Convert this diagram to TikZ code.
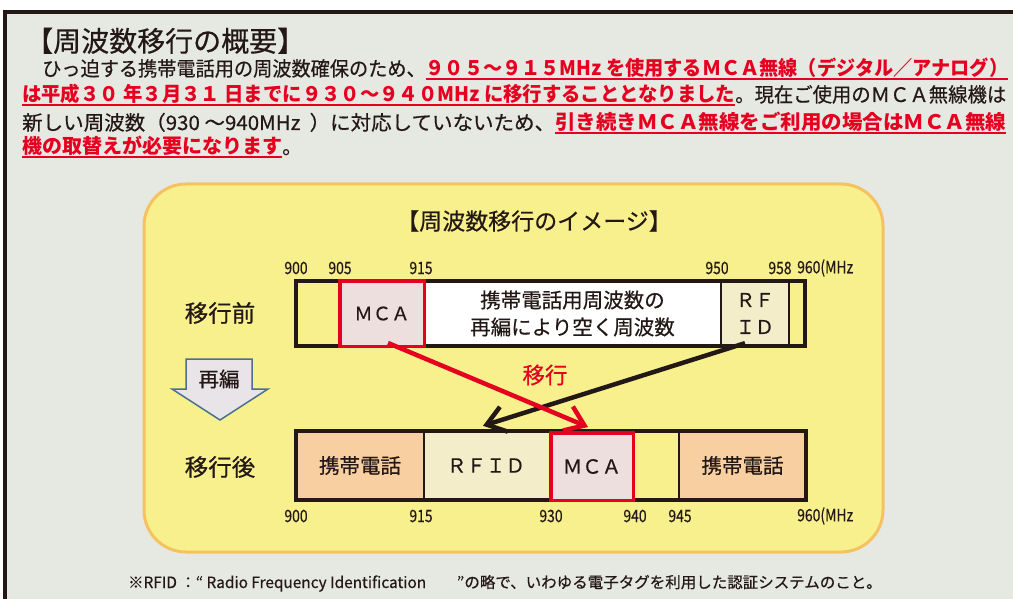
\documentclass[tikz,border=0pt]{standalone}
\usepackage{fontspec}
\usepackage{graphicx}
\setmainfont{Noto Sans CJK JP}
\newfontfamily\medfont[FakeBold=0.45]{Noto Sans CJK JP}
\usetikzlibrary{arrows.meta}
\definecolor{cred}{HTML}{E60020}
\definecolor{cink}{HTML}{231815}
\definecolor{cpanel}{HTML}{E6E8E2}
\definecolor{cyellow}{HTML}{F7F08C}
\definecolor{corange}{HTML}{F5C260}
\definecolor{cpeach}{HTML}{F8CFA0}
\definecolor{ccream}{HTML}{F3EDC9}
\definecolor{cpink}{HTML}{EEDFDF}
\definecolor{cgrayarrow}{HTML}{E8E4E8}
\definecolor{cblue}{HTML}{4A7090}
\newsavebox\ulbox
\newcommand\rul[1]{\sbox\ulbox{\color{cred}\normalfont\bfseries #1}{\color{cred}\rlap{\usebox\ulbox}\rule[-4pt]{\wd\ulbox}{1.6pt}}}
\newcommand\nar[1]{\scalebox{0.82}[1]{#1}}
\begin{document}
\begin{tikzpicture}[x=1pt,y=-1pt,
  txt/.style={inner sep=0pt, text=cink},
  para/.style={inner sep=0pt, anchor=base west, text=cink, font=\medfont\fontsize{20}{24}\selectfont},
  cell/.style={inner sep=0pt, text=cink, align=center, font=\medfont\fontsize{20.5}{27}\selectfont},
  num/.style={inner sep=0pt, text=cink, font=\medfont\fontsize{17}{17}\selectfont},
  barbox/.style={draw=cink, line width=3.5pt, inner sep=0pt},
  div/.style={draw=cink, line width=1.5pt},
  redbox/.style={draw=cred, line width=3.5pt, fill=cpink},
  mv/.style={line width=4.5pt, -{Straight Barb[length=18pt,width=26pt]}},
]
\useasboundingbox (0,0) rectangle (1013,599);
\fill[white] (0,0) rectangle (1013,599);
\fill[cpanel] (5,12) rectangle (1013,599);
\draw[cink, line width=3.5pt, line join=miter] (5,599) -- (5,12) -- (1013,12);

% heading and paragraph
\node[txt, anchor=base west, font=\medfont\fontsize{28}{28}\selectfont] (title) at (25,51.5) {【周波数移行の概要】};
\node[para] (l1) at (42,76) {\resizebox{966pt}{\height}{ひっ迫する携帯電話用の周波数確保のため、\rul{９０５～９１５MHz を使用するＭＣＡ無線（デジタル／アナログ）}}};
\node[para] (l2) at (22,102) {\resizebox{984pt}{\height}{\rul{は平成３０ 年３月３１ 日までに９３０～９４０MHz に移行することとなりました}。現在ご使用のＭＣＡ無線機は}};
\node[para] (l3) at (22,130) {\resizebox{984pt}{\height}{新しい周波数（930 ～940MHz \ ）に対応していないため、\rul{引き続きＭＣＡ無線をご利用の場合はＭＣＡ無線}}};
\node[para] (l4) at (22,154) {\rul{機の取替えが必要になります}。};

% yellow panel
\draw[fill=cyellow, draw=corange, line width=3pt, rounded corners=42pt] (144,184) rectangle (883,552);
\node[txt, font=\medfont\fontsize{23}{23}\selectfont] (sub) at (534,221) {【周波数移行のイメージ】};

% row labels
\node[txt, font=\medfont\fontsize{23.5}{23.5}\selectfont] (before) at (220,313) {移行前};
\node[txt, font=\medfont\fontsize{23.5}{23.5}\selectfont] (after) at (220,467) {移行後};

% reorganise arrow
\draw[fill=cgrayarrow, draw=cblue, line width=1.5pt, line join=miter] (186,359) -- (252,359) -- (252,389) -- (268,389) -- (220,420) -- (172,389) -- (186,389) -- cycle;
\node[txt, font=\medfont\fontsize{20.5}{20.5}\selectfont] (reorg) at (219,379) {再編};

% before bar
\node[cell, fill=white, minimum width=297pt, minimum height=65pt] (spare) at (572.5,313.5) {携帯電話用周波数の\\再編により空く周波数};
\node[cell, fill=ccream, minimum width=68pt, minimum height=65pt, font=\medfont\fontsize{19}{27}\selectfont] (rfid1) at (755,313.5) {ＲＦ\\ＩＤ};
\draw[div] (spare.north east) -- (spare.south east);
\draw[div] (rfid1.north east) -- (rfid1.south east);
\node[barbox, minimum width=509pt, minimum height=65pt] (bar1) at (550.5,313.5) {};
\node[cell, redbox, minimum width=84.5pt, minimum height=65.5pt, font=\medfont\fontsize{18.5}{18.5}\selectfont] (mca1) at (382,313.5) {ＭＣＡ};

% after bar
\node[cell, fill=cpeach, minimum width=128pt, minimum height=69pt] (kt1) at (360,465.5) {携帯電話};
\node[cell, fill=ccream, minimum width=124pt, minimum height=69pt, font=\medfont\fontsize{19.5}{19.5}\selectfont] (rfid2) at (486,465.5) {ＲＦＩＤ};
\node[cell, fill=cpeach, minimum width=127pt, minimum height=69pt] (kt2) at (742.5,465.5) {携帯電話};
\draw[div] (kt1.north east) -- (kt1.south east);
\draw[div] (kt2.north west) -- (kt2.south west);
\node[barbox, minimum width=510pt, minimum height=69pt] (bar2) at (551,465.5) {};
\node[cell, redbox, minimum width=82.5pt, minimum height=67.5pt, font=\medfont\fontsize{19.5}{19.5}\selectfont] (mca2) at (592,466.5) {ＭＣＡ};

% frequency labels
\node[num] (a900) at (296,268) {\nar{900}};
\node[num] (a905) at (340,268) {\nar{905}};
\node[num] (a915) at (421,268) {\nar{915}};
\node[num] (a950) at (717,268) {\nar{950}};
\node[num] (a958) at (780,268) {\nar{958}};
\node[num, anchor=west] (a960) at (797,268) {\nar{960(MHz}};
\node[num] (b900) at (296,516) {\nar{900}};
\node[num] (b915) at (421,516) {\nar{915}};
\node[num] (b930) at (551,516) {\nar{930}};
\node[num] (b940) at (635,516) {\nar{940}};
\node[num] (b945) at (680,516) {\nar{945}};
\node[num, anchor=west] (b960) at (797,516) {\nar{960(MHz}};

% migration arrows
\draw[mv, draw=cink] ([xshift=-10pt,yshift=3pt]rfid1.south) -- ([xshift=-3pt,yshift=5pt]rfid2.north);
\draw[mv, draw=cred] ([xshift=6pt,yshift=5pt]mca1.south) -- ([xshift=-4pt,yshift=4pt]mca2.north);
\node[txt, text=cred, font=\medfont\fontsize{22.5}{22.5}\selectfont] (mvlabel) at (545,375) {移行};

% footnote
\node[txt, anchor=base west, font=\medfont\fontsize{15.5}{15.5}\selectfont] (fn1) at (128,588) {\resizebox{298pt}{\height}{※RFID ：“ Radio Frequency Identification}};
\node[txt, anchor=base east, font=\medfont\fontsize{15.5}{15.5}\selectfont] (fn2) at (882,588) {”の略で、いわゆる電子タグを利用した認証システムのこと。};
\end{tikzpicture}
\end{document}
